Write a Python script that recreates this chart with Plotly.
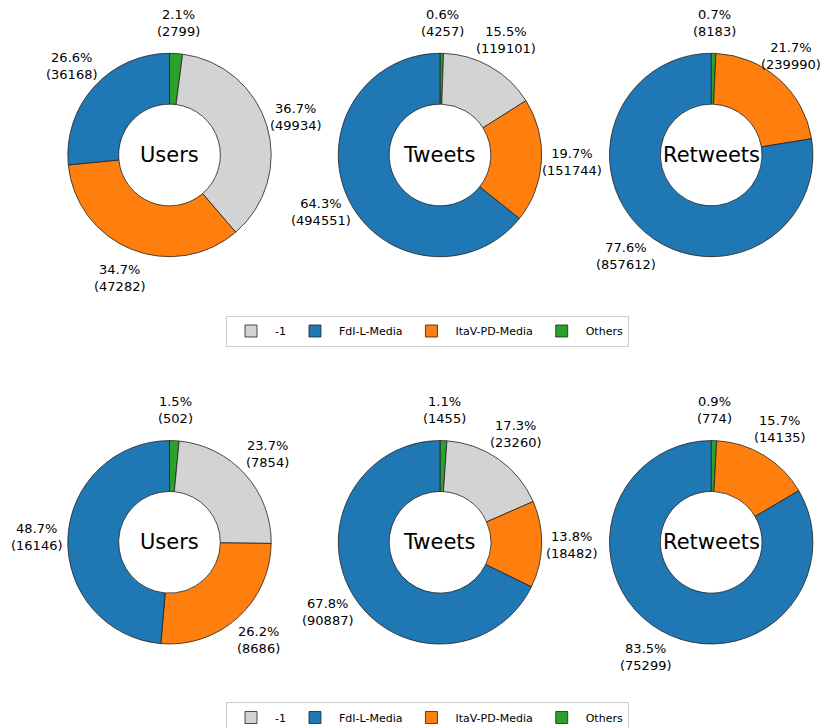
import math
import plotly.graph_objects as go

W, H = 831, 728
OFF = 8          # the page body offsets the figure by 8px
VISIBLE_RIGHT = 821  # rightmost page x that is actually shown

slice_order = ["Others", "-1", "ItaV-PD-Media", "FdI-L-Media"]
legend_order = ["-1", "FdI-L-Media", "ItaV-PD-Media", "Others"]
colors = {"-1": "#d3d3d3", "FdI-L-Media": "#1f77b4",
          "ItaV-PD-Media": "#ff7f0e", "Others": "#2ca02c"}
panel_titles = ["Users", "Tweets", "Retweets"]

top_users = [2799, 49934, 47282, 36168]
top_tweets = [4257, 119101, 151744, 494551]
top_retweets = [8183, 0, 239990, 857612]
bottom_users = [502, 7854, 8686, 16146]
bottom_tweets = [1455, 23260, 18482, 90887]
bottom_retweets = [774, 0, 14135, 75299]

rows = [[top_users, top_tweets, top_retweets],
        [bottom_users, bottom_tweets, bottom_retweets]]

centers_x = [169.5, 440, 711.2]
centers_y = [155, 542.3]
R = 101.7
LABEL_R = 1.3 * R
LABEL_FONT = 13
legend_y = [331, 717.5]
legend_x = 427.5


def px(x):
    return (x - OFF) / W


def py(y):
    return 1 - (y - OFF) / H


fig = go.Figure()
for r, row in enumerate(rows):
    leg = "legend" if r == 0 else "legend2"
    # each legend needs its own label keys; a zero-width suffix keeps text identical
    sfx = "" if r == 0 else "\u200b"
    cy = centers_y[r]
    # tiny helper pie hidden under the legend box; sets the legend order
    fig.add_trace(go.Pie(
        labels=[l + sfx for l in legend_order], values=[1, 1, 1, 1], sort=False,
        marker=dict(colors=[colors[c] for c in legend_order],
                    line=dict(color="#222", width=0.8)),
        domain=dict(x=[px(legend_x), px(legend_x) + 0.001],
                    y=[py(legend_y[r]), py(legend_y[r]) + 0.001]),
        textinfo="none", hoverinfo="skip", legend=leg, showlegend=True))
    for c, vals in enumerate(row):
        cx = centers_x[c]
        labs = [l for l, v in zip(slice_order, vals) if v > 0]
        vs = [v for v in vals if v > 0]
        total = sum(vs)
        fig.add_trace(go.Pie(
            labels=[l + sfx for l in labs], values=vs, sort=False,
            direction="clockwise", rotation=0, hole=0.5,
            marker=dict(colors=[colors[l] for l in labs],
                        line=dict(color="#222", width=0.8)),
            textinfo="none",
            hovertemplate="%{label}: %{value} (%{percent})<extra></extra>",
            domain=dict(x=[px(cx - R), px(cx + R)],
                        y=[py(cy + R), py(cy - R)]),
            legend=leg, showlegend=True))
        fig.add_annotation(x=px(cx), y=py(cy), xref="paper", yref="paper",
                           xanchor="center", yanchor="middle",
                           text=panel_titles[c], showarrow=False,
                           font=dict(family="DejaVu Sans", size=21, color="#000"))
        cum = 0
        for l, v in zip(labs, vs):
            mid = (cum + v / 2) / total * 2 * math.pi
            cum += v
            lx = cx + LABEL_R * math.sin(mid)
            ly = cy - LABEL_R * math.cos(mid)
            line2 = f"({v})"
            half_w = 0.5 * LABEL_FONT * (0.78 + 0.636 * len(str(v)))
            lx = min(lx, VISIBLE_RIGHT - half_w)
            fig.add_annotation(
                x=px(lx), y=py(ly), xref="paper", yref="paper",
                xanchor="center", yanchor="middle", showarrow=False,
                text=f"{v / total * 100:.1f}%<br>{line2}",
                font=dict(family="DejaVu Sans", size=LABEL_FONT, color="#000"))

legend_style = dict(orientation="h", xanchor="center", yanchor="middle",
                    bgcolor="white", bordercolor="#cccccc", borderwidth=1,
                    font=dict(family="DejaVu Sans", size=11, color="#000"),
                    itemwidth=38, tracegroupgap=0)
fig.update_layout(
    width=W, height=H, margin=dict(l=0, r=0, t=0, b=0, autoexpand=False),
    paper_bgcolor="white", plot_bgcolor="white",
    legend=dict(x=px(legend_x), y=py(legend_y[0]), **legend_style),
    legend2=dict(x=px(legend_x), y=py(legend_y[1]), **legend_style),
    font=dict(family="DejaVu Sans"),
)
fig.write_html("out.html")
